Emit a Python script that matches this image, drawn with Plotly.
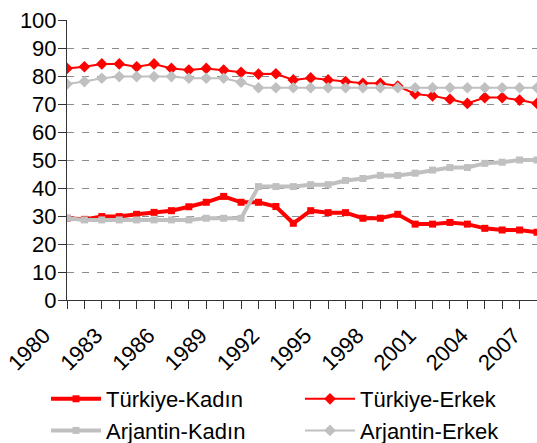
import plotly.graph_objects as go

years = list(range(1980, 2008))

tr_kadin = [29.2, 28.8, 29.8, 29.8, 30.6, 31.3, 31.9, 33.3, 34.9, 37.0, 34.9, 34.9,
            33.4, 27.4, 31.9, 31.2, 31.2, 29.2, 29.2, 30.6, 27.1, 27.1, 27.7, 27.1,
            25.6, 25.0, 25.0, 24.2]
tr_erkek = [82.7, 83.3, 84.3, 84.3, 83.3, 84.3, 82.7, 82.1, 82.7, 82.1, 81.3, 80.7,
            80.8, 78.6, 79.3, 78.6, 78.0, 77.4, 77.4, 76.4, 73.6, 72.9, 71.7, 70.2,
            72.3, 72.3, 71.4, 70.2]
ar_kadin = [29.2, 28.6, 28.6, 28.6, 28.6, 28.6, 28.6, 28.6, 29.2, 29.2, 29.2, 40.5,
            40.5, 40.5, 41.2, 41.2, 42.7, 43.4, 44.5, 44.5, 45.3, 46.4, 47.3, 47.3,
            48.8, 49.2, 50.0, 50.0]
ar_erkek = [77.1, 78.0, 79.2, 79.8, 79.8, 79.8, 79.8, 79.2, 79.2, 79.2, 77.8, 75.8,
            75.8, 75.8, 75.8, 75.8, 75.8, 75.8, 75.8, 75.8, 75.8, 75.8, 75.8, 75.8,
            75.8, 75.8, 75.8, 75.8]

x_ticks = list(range(1980, 2008, 3))
y_ticks = list(range(0, 101, 10))

RED = "#FF0000"
GRAY = "#C0C0C0"
FONT = "Liberation Sans, Arial, sans-serif"

fig = go.Figure()
fig.add_trace(go.Scatter(x=years, y=tr_kadin, name="Türkiye-Kadın", mode="lines+markers",
                         line=dict(color=RED, width=4),
                         marker=dict(symbol="square", size=7, color=RED),
                         legend="legend"))
fig.add_trace(go.Scatter(x=years, y=ar_kadin, name="Arjantin-Kadın", mode="lines+markers",
                         line=dict(color=GRAY, width=4),
                         marker=dict(symbol="square", size=7, color=GRAY),
                         legend="legend"))
fig.add_trace(go.Scatter(x=years, y=tr_erkek, name="Türkiye-Erkek", mode="lines+markers",
                         line=dict(color=RED, width=2),
                         marker=dict(symbol="diamond", size=9, color=RED),
                         legend="legend2"))
fig.add_trace(go.Scatter(x=years, y=ar_erkek, name="Arjantin-Erkek", mode="lines+markers",
                         line=dict(color=GRAY, width=2),
                         marker=dict(symbol="diamond", size=9, color=GRAY),
                         legend="legend2"))

legend_common = dict(orientation="v", xref="paper", yref="paper",
                     xanchor="left", yanchor="top", font=dict(family=FONT, size=22, color="black"),
                     bgcolor="rgba(0,0,0,0)", itemwidth=50, tracegroupgap=0)

PW = 470.0
PH = 280.0
def px(xp):
    return (xp - 67) / PW
def py(yp):
    return (300 - yp) / PH

fig.update_layout(
    width=537, height=443,
    margin=dict(l=67, r=0, t=20, b=143, autoexpand=False),
    paper_bgcolor="white", plot_bgcolor="white",
    font=dict(family=FONT, size=22, color="black"),
    showlegend=True,
    legend=dict(x=px(46), y=py(378), **legend_common),
    legend2=dict(x=px(300), y=py(378), **legend_common),
    xaxis=dict(range=[1980, 2007], tickmode="array", tickvals=x_ticks,
               ticktext=[str(v) for v in x_ticks], tickangle=-45,
               ticklabelshift=-23, ticklabelstandoff=5, ticklabeloverflow="allow",
               ticks="outside", ticklen=8, tickcolor="#333333",
               minor=dict(dtick=1, tick0=1980, ticks="outside", ticklen=8, tickcolor="#333333", showgrid=False),
               showline=True, linecolor="#333333", linewidth=1,
               showgrid=False, zeroline=False, automargin=False,
               tickfont=dict(family=FONT, size=22, color="black")),
    yaxis=dict(range=[0, 100], tickmode="array", tickvals=y_ticks,
               ticks="outside", ticklen=8, tickcolor="#333333",
               ticklabelstandoff=-3,
               showline=True, linecolor="#333333", linewidth=1,
               showgrid=True, gridcolor="#8C8C8C", griddash="7px,8px", gridwidth=1,
               zeroline=False, automargin=False,
               tickfont=dict(family=FONT, size=22, color="black")),
)

fig.write_html("out.html", config={"displayModeBar": False},
               post_script="document.body.style.margin='0';document.body.style.overflow='hidden';")
